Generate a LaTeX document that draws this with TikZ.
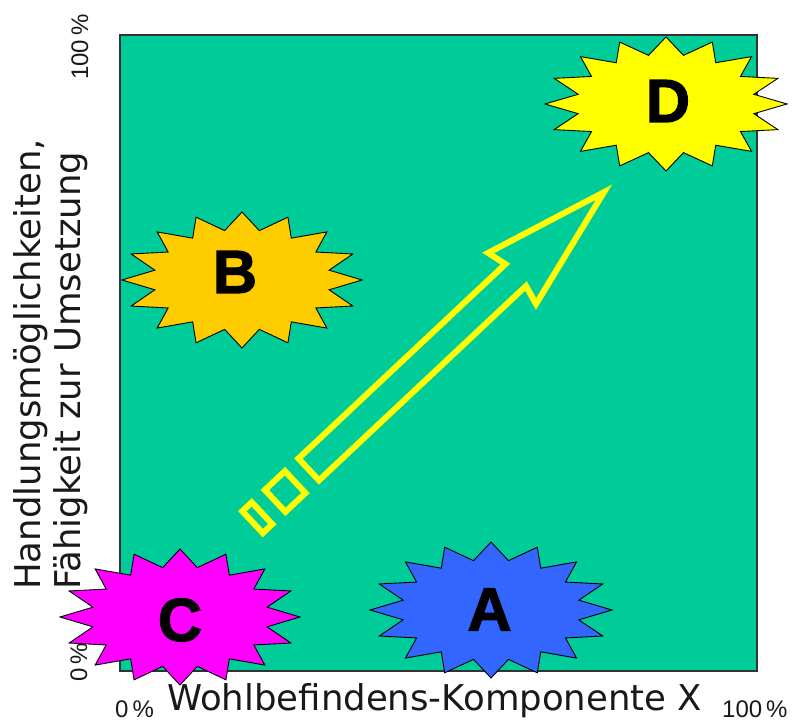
\documentclass[tikz,border=0pt]{standalone}
\usepackage{fontspec}
\setmainfont{DejaVu Sans}
\newfontfamily\tickfont{Liberation Sans}
\newfontfamily\letterfont[FakeBold=2]{Liberation Sans Bold}
\definecolor{panelgreen}{RGB}{0,204,153}
\definecolor{burstA}{RGB}{51,102,255}
\definecolor{burstB}{RGB}{255,204,0}
\definecolor{burstC}{RGB}{255,0,255}
\definecolor{burstD}{RGB}{255,255,0}
\definecolor{arrowyellow}{RGB}{255,255,0}
\newcommand{\burstshape}[5]{%
  \begin{scope}[shift={(#1,#2)}]
    \filldraw[burst, fill=#5] (0,#4)
      \foreach \k in {1,...,16}{ -- ({0.74*#3*cos(90+\k*22.5-11.25)},{0.74*#4*sin(90+\k*22.5-11.25)}) -- ({#3*cos(90+\k*22.5)},{#4*sin(90+\k*22.5)})} -- cycle;
  \end{scope}}
\begin{document}
\begin{tikzpicture}[x=1pt,y=1pt,
  burst/.style={draw=black, line width=0.9pt, line join=miter},
  letter/.style={font=\letterfont\fontsize{61}{61}\selectfont, text=black, inner sep=0pt},
  axislabel/.style={font=\fontsize{35.5}{42}\selectfont, inner sep=0pt, text=black!90},
  tick/.style={font=\tickfont\fontsize{24}{28}\selectfont, inner sep=0pt, text=black!90},
  arrowline/.style={draw=arrowyellow, line width=6pt, line join=miter}]
\useasboundingbox (0,0) rectangle (794,722);
% panel
\filldraw[fill=panelgreen, draw=black!80, line width=2pt] (120,51) rectangle (757,687);
% bursts
\burstshape{491}{112}{121}{68}{burstA}
\burstshape{242}{442}{120}{68}{burstB}
\burstshape{180}{105}{120}{68}{burstC}
\burstshape{666}{618}{121}{67}{burstD}
\node[letter] (A) at (489.5,112.5) {A};
\node[letter] (B) at (235,450) {B};
\node[letter] (C) at (180,102) {C};
\node[letter] (D) at (668,621) {D};
% striped arrow
\begin{scope}[shift={(306.5,250.5)}, rotate=43.2]
  \draw[arrowline] (3,-15) -- (287,-15) -- (282,-35) -- (408,0) -- (282,35) -- (287,15) -- (3,15) -- cycle;
  \draw[arrowline] (-43,-15) rectangle (-15.5,15);
  \draw[arrowline] (-74,-15) rectangle (-61,15);
\end{scope}
% axis labels
\node[axislabel, rotate=90, anchor=base west] (ylab1) at (40,132) {Handlungsmöglichkeiten,};
\node[axislabel, rotate=90, anchor=base west] (ylab2) at (80,132) {Fähigkeit zur Umsetzung};
\node[axislabel, anchor=base west] (xlab) at (167,12) {Wohlbefindens-Komponente X};
% tick labels
\node[tick, rotate=90, anchor=base west] (ytop) at (88,642) {100\,\%};
\node[tick, rotate=90, anchor=base west] (ybot) at (87,40) {0\,\%};
\node[tick, anchor=base west] (xleft) at (115,5) {0\,\%};
\node[tick, anchor=base west] (xright) at (722,5) {100\,\%};
\end{tikzpicture}
\end{document}
